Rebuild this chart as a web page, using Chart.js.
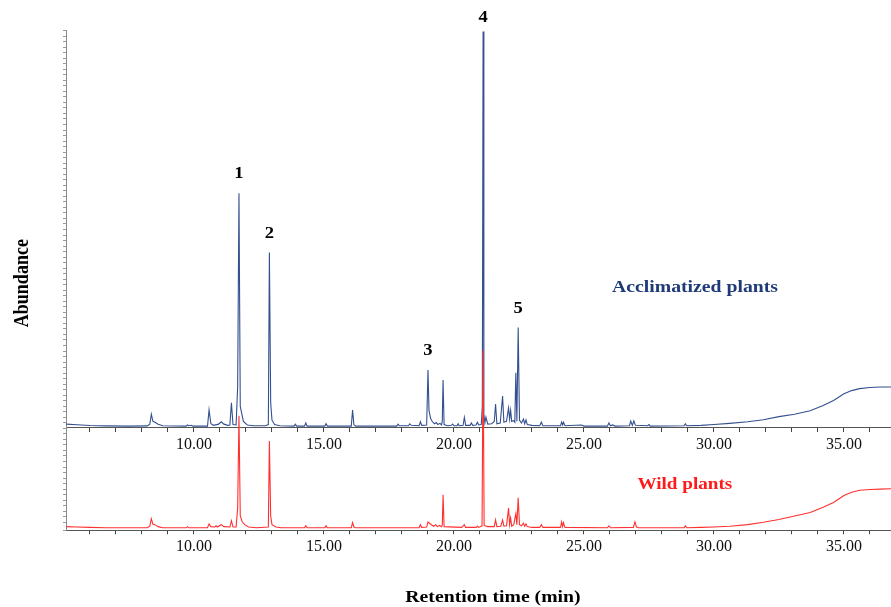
<!DOCTYPE html>
<html>
<head>
<meta charset="utf-8">
<script src="https://cdn.jsdelivr.net/npm/chart.js@4.4.1/dist/chart.umd.min.js"></script>
<style>
  html, body { margin: 0; padding: 0; background: #fff; }
  #wrap { width: 891px; height: 607px; }
</style>
</head>
<body>
<div id="wrap"><canvas id="gcChart" width="891" height="607"></canvas></div>
<script>
// retention time (min), relative abundance (peak 4 of acclimatized = 100)
const acclimatized = [
  [5.08,0.5],[5.5,0.35],[6.0,0.15],[6.6,0.05],[7.5,0],[8.2,0.05],[8.3,0.5],[8.36,3.0],[8.42,1.2],
  [8.5,1.0],[8.62,0.5],[8.8,0.1],[9.7,0],[9.75,0.3],[9.8,0.1],[9.9,0.2],[9.96,0],[10.52,0],
  [10.58,4.1],[10.65,0.6],[10.75,0.2],[10.95,0.5],[11.05,1.1],[11.15,0.5],[11.3,0.2],[11.38,0.3],
  [11.44,5.9],[11.5,0.4],[11.62,0.3],[11.68,10],[11.73,59],[11.78,5],[11.83,3.4],[11.9,1.2],
  [12.05,0.3],[12.3,0.1],[12.75,0.1],[12.86,0.4],[12.9,44],[12.95,6],[13.0,1.5],[13.1,0.4],
  [13.3,0.1],[13.85,0],[13.9,0.5],[13.95,0],[14.25,0],[14.3,0.8],[14.35,0],[15.03,0],[15.08,0.6],
  [15.13,0],[16.05,0],[16.1,4.1],[16.15,0.4],[16.22,0],[17.8,0],[17.85,0.5],[17.9,0.1],[18.25,0.1],
  [18.3,0.6],[18.36,0.2],[18.66,0.1],[18.71,1.1],[18.76,0.2],[18.95,0.3],[19.0,14.2],[19.04,4],
  [19.1,2.0],[19.17,1.1],[19.25,0.6],[19.32,0.9],[19.38,0.4],[19.46,0.7],[19.52,0.3],[19.55,1.2],
  [19.58,11.7],[19.62,0.4],[19.75,0.1],[19.9,0.2],[19.95,0.5],[20.0,0.1],[20.12,0.1],[20.16,0.6],
  [20.2,0.1],[20.35,0.2],[20.4,2.2],[20.45,0.2],[20.62,0.2],[20.67,0.8],[20.72,0.2],[20.85,0.3],
  [20.9,1.0],[20.95,0.3],[21.05,0.4],[21.09,5],[21.12,100],[21.15,3],[21.19,0.8],[21.23,2.3],
  [21.3,0.5],[21.45,0.6],[21.55,1.2],[21.6,5.6],[21.65,0.6],[21.78,0.8],[21.87,7.6],[21.92,1.0],
  [22.02,1.2],[22.1,4.6],[22.14,1.8],[22.18,4.0],[22.22,1.2],[22.3,1.4],[22.34,1.0],[22.38,13.5],
  [22.42,1.2],[22.47,25],[22.52,1.5],[22.6,0.8],[22.67,1.8],[22.72,0.6],[22.77,1.6],[22.82,0.4],
  [23.0,0.2],[23.3,0.1],[23.36,1.0],[23.42,0.1],[24.1,0.1],[24.14,1.0],[24.18,0.3],[24.21,1.0],
  [24.27,0.1],[24.9,0.3],[25.0,0],[25.9,0],[25.96,0.8],[26.02,0.1],[26.1,0.3],[26.2,0],[26.75,0.1],
  [26.8,1.3],[26.86,0.2],[26.92,1.3],[26.98,0.2],[27.45,0.1],[27.5,0.4],[27.55,0],[28.85,0.1],
  [28.9,0.6],[28.95,0.1],[29.5,0.2],[30.0,0.4],[30.6,0.7],[31.3,1.1],[31.9,1.6],[32.5,2.4],
  [33.1,3.0],[33.7,3.9],[34.2,5.2],[34.6,6.5],[35.0,8.2],[35.3,9.0],[35.6,9.5],[36.0,9.8],
  [36.4,9.9],[36.81,9.9]
];

const wild = [
  [5.08,0.3],[5.5,0.2],[6.0,0.1],[6.6,0],[8.2,0],[8.3,0.4],[8.36,2.3],[8.42,0.9],[8.5,0.8],
  [8.62,0.3],[8.8,0],[9.7,0],[9.75,0.3],[9.8,0],[10.52,0],[10.58,1.0],[10.65,0.3],[10.8,0.2],
  [10.85,0.5],[10.9,0.2],[11.05,0.8],[11.15,0.3],[11.38,0.2],[11.44,1.8],[11.5,0.2],[11.62,0.2],
  [11.68,5],[11.73,28.4],[11.78,3],[11.85,1.6],[11.95,0.8],[12.1,0.2],[12.4,0],[12.86,0.2],
  [12.9,22],[12.95,3],[13.0,0.8],[13.15,0.2],[13.35,0],[14.25,0],[14.3,0.5],[14.35,0],[15.03,0],
  [15.08,0.5],[15.13,0],[16.05,0],[16.1,1.3],[16.15,0.2],[16.22,0],[18.66,0],[18.71,0.8],
  [18.76,0.1],[18.95,0.2],[19.0,1.5],[19.07,1.1],[19.15,0.7],[19.22,0.4],[19.3,0.8],[19.36,0.3],
  [19.45,0.6],[19.52,0.3],[19.55,0.6],[19.58,8.4],[19.62,0.3],[20.3,0.1],[20.4,0.8],[20.45,0.1],
  [20.85,0.1],[20.9,0.4],[20.95,0.1],[21.08,0.5],[21.12,45],[21.16,0.6],[21.3,0.3],[21.55,0.3],
  [21.6,2.0],[21.65,0.3],[21.8,0.4],[21.87,2.0],[21.92,0.4],[22.02,0.5],[22.1,5.0],[22.14,0.8],
  [22.18,2.5],[22.22,0.4],[22.3,0.8],[22.38,3.6],[22.42,0.8],[22.47,7.6],[22.52,0.8],[22.6,0.5],
  [22.67,1.2],[22.72,0.4],[22.77,1.0],[22.82,0.3],[23.0,0.1],[23.3,0.1],[23.36,0.8],[23.42,0.1],
  [24.1,0.1],[24.14,1.5],[24.18,0.3],[24.21,1.3],[24.27,0.1],[25.9,0],[25.96,0.5],[26.02,0],
  [26.9,0.1],[26.96,1.5],[27.02,0.2],[27.1,0],[28.85,0],[28.9,0.5],[28.95,0],[29.5,0.1],
  [30.0,0.2],[30.6,0.4],[31.3,0.8],[31.9,1.4],[32.5,2.1],[33.1,3.0],[33.7,3.9],[34.2,5.2],
  [34.6,6.4],[35.0,8.2],[35.3,9.0],[35.6,9.5],[36.0,9.7],[36.4,9.8],[36.81,9.9]
];

// numbered peaks (on the acclimatized trace)
const peakIds = ["1", "2", "3", "4", "5"];
const peakTimes = [11.73, 12.9, 19.0, 21.12, 22.47];

const seriesNames = ["Acclimatized plants", "Wild plants"];
const tickLabelEvery = 5; // min

const SERIF = '"Liberation Serif", "Times New Roman", serif';

// stretched text like in the original figure
function drawText(ctx, text, x, y, size, color) {
  ctx.save();
  ctx.translate(x, y);
  ctx.scale(1.16, 1);
  ctx.font = "bold " + size + "px " + SERIF;
  ctx.fillStyle = color;
  ctx.textAlign = "center";
  ctx.textBaseline = "middle";
  ctx.fillText(text, 0, 0);
  ctx.restore();
}

const textMarks = {
  id: "textMarks",
  afterDatasetsDraw(chart) {
    const { ctx, chartArea, scales } = chart;
    const x = scales.x, yB = scales.yB, yR = scales.yR;

    peakIds.forEach((id, i) => {
      const t = peakTimes[i];
      const p = acclimatized.find(d => d[0] === t);
      const top = yB.getPixelForValue(p[1]);
      drawText(ctx, id, x.getPixelForValue(t), Math.max(top - 19, 18), 16, "#000");
    });

    drawText(ctx, seriesNames[0], x.getPixelForValue(29.27), yB.getPixelForValue(35.2), 17, "#1f3a78");
    drawText(ctx, seriesNames[1], x.getPixelForValue(28.88), yR.getPixelForValue(10.9), 16.5, "#ff1a1a");

    // axis titles
    drawText(ctx, "Retention time (min)", x.getPixelForValue(21.5), chart.height - 9, 17, "#000");
    ctx.save();
    ctx.translate(23, (chartArea.top + chartArea.bottom) / 2 + 3);
    ctx.rotate(-Math.PI / 2);
    ctx.scale(1, 1.16);
    ctx.font = "bold 18px " + SERIF;
    ctx.fillStyle = "#000";
    ctx.textAlign = "center";
    ctx.textBaseline = "middle";
    ctx.fillText("Abundance", 0, 0);
    ctx.restore();
  }
};

function timeAxis(extra) {
  return Object.assign({
    type: "linear",
    axis: "x",
    min: 5.077,
    max: 36.81,
    ticks: {
      stepSize: 1,
      includeBounds: false,
      autoSkip: false,
      maxRotation: 0,
      padding: 3,
      color: "#111",
      font: { family: SERIF, size: 16 },
      callback: v => (Math.abs(v % tickLabelEvery) < 1e-9 ? v.toFixed(2) : "")
    },
    grid: { drawOnChartArea: false, drawTicks: true, tickLength: 4, tickColor: "#444" },
    border: { color: "#555", width: 1 }
  }, extra);
}

new Chart(document.getElementById("gcChart"), {
  type: "line",
  data: {
    datasets: [
      {
        label: seriesNames[1],
        data: wild,
        xAxisID: "x",
        yAxisID: "yR",
        borderColor: "#ff3030",
        borderWidth: 1.1,
        pointRadius: 0,
        tension: 0,
        clip: false,
        order: 1
      },
      {
        label: seriesNames[0],
        data: acclimatized,
        xAxisID: "x",
        yAxisID: "yB",
        borderColor: "#34508f",
        borderWidth: 1.1,
        pointRadius: 0,
        tension: 0,
        clip: false,
        order: 2
      }
    ]
  },
  options: {
    responsive: false,
    animation: false,
    events: [],
    layout: { padding: { top: 30, left: 63, right: 0, bottom: 47.5 } },
    plugins: { legend: { display: false }, tooltip: { enabled: false } },
    scales: {
      x: timeAxis({ position: "bottom" }),
      xTop: timeAxis({ position: { yB: -0.4 } }),
      yR: {
        type: "linear",
        position: "left",
        min: -0.63,
        max: 126.15,
        ticks: { display: false, stepSize: 1.4 },
        grid: { drawOnChartArea: false, tickLength: 3, tickColor: "#9a9a9a" },
        border: { color: "#8a8a8a" }
      },
      yB: {
        type: "linear",
        display: false,
        min: -26.4,
        max: 100.38
      }
    }
  },
  plugins: [textMarks]
});
</script>
</body>
</html>
